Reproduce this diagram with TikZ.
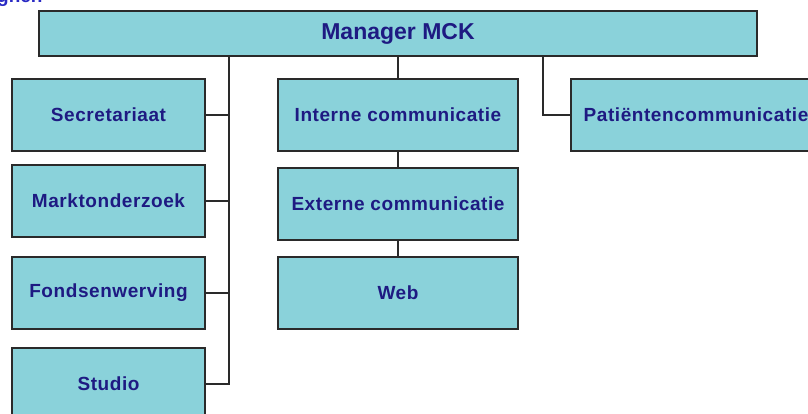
\documentclass[tikz,border=0pt]{standalone}
\usepackage{fontspec}
\setmainfont{Liberation Sans}
\definecolor{boxfill}{HTML}{8AD2DA}
\definecolor{boxtext}{HTML}{1E1A82}
\definecolor{titleblue}{HTML}{2A2AC4}
\definecolor{edge}{HTML}{2A2A2A}
\begin{document}
\begin{tikzpicture}[x=1pt,y=-1pt,
  unit/.style={draw=edge,line width=1.6pt,fill=boxfill,text=boxtext,
    font=\bfseries\fontsize{19}{22}\selectfont\addfontfeature{LetterSpace=3},
    inner sep=0pt,minimum width=193pt,minimum height=72pt},
  midunit/.style={unit,minimum width=240pt},
  link/.style={draw=edge,line width=1.6pt}]
  \useasboundingbox (0,0) rectangle (808,414);

  % cut-off heading fragment at the top edge
  \node[anchor=base west,inner sep=0pt,text=titleblue,
    font=\bfseries\fontsize{19}{22}\selectfont] (heading) at (-3,3) {gnen};

  % top of the chart
  \node[unit,minimum width=718pt,minimum height=45pt,
    font=\bfseries\fontsize{23}{26}\selectfont] (mgr) at (398,33.5) {Manager MCK};

  % left column
  \node[unit] (sec) at (108.5,115) {Secretariaat};
  \node[unit] (mkt) at (108.5,201) {Marktonderzoek};
  \node[unit] (fnd) at (108.5,293) {Fondsenwerving};
  \node[unit] (std) at (108.5,384) {Studio};

  % middle column
  \node[midunit] (int) at (398,115) {Interne communicatie};
  \node[midunit] (ext) at (398,204) {Externe communicatie};
  \node[midunit] (web) at (398,293) {Web};

  % right unit, running past the right edge
  \node[midunit,minimum width=250pt] (pat) at (696,115) {Patiëntencommunicatie};

  % left bus
  \coordinate (lbus) at (229,384);
  \draw[link] (mgr.south -| lbus) -- (lbus) -- (std.east);
  \draw[link] (sec.east) -- (sec.east -| lbus);
  \draw[link] (mkt.east) -- (mkt.east -| lbus);
  \draw[link] (fnd.east) -- (fnd.east -| lbus);

  % middle chain
  \draw[link] (mgr.south -| int.north) -- (int.north);
  \draw[link] (int.south) -- (ext.north);
  \draw[link] (ext.south) -- (web.north);

  % right branch
  \coordinate (rtap) at (543,0);
  \draw[link] (mgr.south -| rtap) |- (pat.west);
\end{tikzpicture}
\end{document}
